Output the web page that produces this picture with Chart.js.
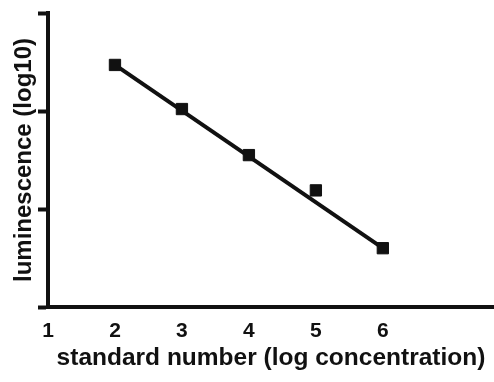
<!DOCTYPE html>
<html>
<head>
<meta charset="utf-8">
<script src="https://cdn.jsdelivr.net/npm/chart.js@4.4.0/dist/chart.umd.min.js"></script>
<style>
  html, body { margin: 0; padding: 0; background: #fff; }
  #wrap { width: 494px; height: 382px; }
</style>
</head>
<body>
<div id="wrap"><canvas id="chart" width="494" height="382"></canvas></div>
<script>
// standard curve: luminescence (log10) per standard
const standards = [2, 3, 4, 5, 6];
const luminescence = [2.47, 2.02, 1.55, 1.19, 0.60];

// end points of the fitted line
const fitX = [2, 6];
const fitY = [2.47, 0.60];

const xTicks = [1, 2, 3, 4, 5, 6];
const yTicks = [0, 1, 2, 3];

const ink = "#111";
const family = "'Liberation Sans', Arial, Helvetica, sans-serif";

new Chart(document.getElementById("chart"), {
  type: "scatter",
  data: {
    datasets: [
      {
        label: "fit",
        data: fitX.map((x, i) => ({ x, y: fitY[i] })),
        showLine: true,
        borderColor: ink,
        borderWidth: 4,
        pointRadius: 0,
        order: 2
      },
      {
        label: "standards",
        data: standards.map((x, i) => ({ x, y: luminescence[i] })),
        pointStyle: "rect",
        pointRadius: 8,
        backgroundColor: ink,
        borderColor: ink,
        borderWidth: 1,
        order: 1
      }
    ]
  },
  options: {
    responsive: false,
    animation: false,
    devicePixelRatio: 1,
    // axis runs right to the edge
    layout: { autoPadding: false, padding: { top: 13, right: 0, left: 0, bottom: 0 } },
    plugins: { legend: { display: false }, tooltip: { enabled: false } },
    scales: {
      x: {
        type: "linear",
        min: 1,
        max: 7.66,
        afterBuildTicks: s => { s.ticks = xTicks.map(v => ({ value: v })); },
        afterFit: s => { s.height = 75; s.paddingRight = 0; s.paddingLeft = 0; },
        grid: { display: false, drawTicks: false },
        border: { display: true, color: ink, width: 4 },
        ticks: {
          color: ink,
          padding: 12,
          font: { family, size: 21, weight: "bold" }
        },
        title: {
          display: true,
          text: "standard number (log concentration)",
          color: ink,
          font: { family, size: 24.5, weight: "bold" },
          padding: { top: 0, bottom: 9 }
        }
      },
      y: {
        type: "linear",
        min: 0,
        max: 3,
        afterBuildTicks: s => { s.ticks = yTicks.map(v => ({ value: v })); },
        afterFit: s => { s.width = 48; },
        grid: {
          drawOnChartArea: false,
          drawTicks: true,
          tickLength: 10,
          tickWidth: 4,
          tickColor: ink
        },
        border: { display: true, color: ink, width: 4 },
        ticks: { display: false },
        title: {
          display: true,
          text: "luminescence (log10)",
          color: ink,
          font: { family, size: 24, weight: "bold" },
          padding: { top: 10, bottom: 0 }
        }
      }
    }
  }
});
</script>
</body>
</html>
